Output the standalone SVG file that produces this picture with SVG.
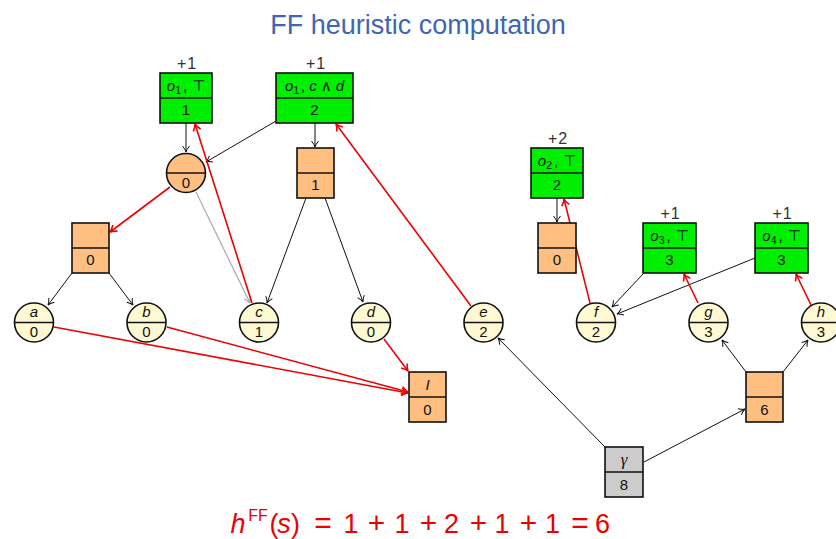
<svg xmlns="http://www.w3.org/2000/svg" width="836" height="539" viewBox="0 0 836 539">
<defs>
<style>
text{font-family:"Liberation Sans","DejaVu Sans",sans-serif;fill:#111}
.box{stroke:#111;stroke-width:1.6}
.g{fill:#00ee00}.o{fill:#ffbf80}.y{fill:#fef9d2}.gr{fill:#cccccc}
.div{stroke:#111;stroke-width:1.6}
.lbl{font-size:15px;text-anchor:middle}
.it{font-style:italic}
.sub{font-size:10.5px}
.cost{font-size:16px;text-anchor:middle;fill:#333;letter-spacing:1px}
.e{fill:none;stroke:#111;stroke-width:1;marker-end:url(#ab)}
.er{fill:none;stroke:#ee0000;stroke-width:1.6;marker-end:url(#ar)}
.eg{fill:none;stroke:#aaaaaa;stroke-width:1.2;marker-end:url(#ag)}
.fm{font-size:27px;text-anchor:middle;fill:#ee0000}
.op{font-size:30px}
</style>
<marker id="ab" markerUnits="userSpaceOnUse" viewBox="-8 -5 10 10" refX="0" refY="0" markerWidth="10" markerHeight="10" orient="auto"><path d="M-6,-3.5 Q-2.5,-0.6 0,0 Q-2.5,0.6 -6,3.5" fill="none" stroke="#111" stroke-width="1"/></marker>
<marker id="ar" markerUnits="userSpaceOnUse" viewBox="-8 -5 10 10" refX="0" refY="0" markerWidth="10" markerHeight="10" orient="auto"><path d="M-6.5,-3.8 Q-2.5,-0.6 0,0 Q-2.5,0.6 -6.5,3.8" fill="none" stroke="#ee0000" stroke-width="1.6"/></marker>
<marker id="ag" markerUnits="userSpaceOnUse" viewBox="-8 -5 10 10" refX="0" refY="0" markerWidth="10" markerHeight="10" orient="auto"><path d="M-6,-3.5 Q-2.5,-0.6 0,0 Q-2.5,0.6 -6,3.5" fill="none" stroke="#aaaaaa" stroke-width="1.2"/></marker>
</defs>
<rect width="836" height="539" fill="#ffffff"/>
<text x="418" y="34" font-size="27" text-anchor="middle" style="fill:#3f67b1">FF heuristic computation</text>

<g id="connectors">
<path class="e" d="M186,123 L186,152"/>
<path class="e" d="M276,121 L206,162"/>
<path class="e" d="M315,123 L315,147"/>
<path class="e" d="M306,198 L267,303"/>
<path class="e" d="M325,198 L363,302"/>
<path class="e" d="M72,273 L48,305"/>
<path class="e" d="M109,273 L133,305"/>
<path class="e" d="M557,198 L557,222"/>
<path class="e" d="M643,274 L612,307"/>
<path class="e" d="M755,258 L617,314"/>
<path class="e" d="M746,372 L722,340"/>
<path class="e" d="M783,372 L808,340"/>
<path class="e" d="M644,462 L745,409"/>
<path class="e" d="M605,447 L498,338"/>
<path class="eg" d="M196,192 L250,303"/>
<path class="er" d="M252,303 L195,124"/>
<path class="er" d="M170,187 L110,232"/>
<path class="er" d="M54,327 L408,393"/>
<path class="er" d="M167,327 L408,392"/>
<path class="er" d="M384,339 L408,371"/>
<path class="er" d="M471,306 L336,124"/>
<path class="er" d="M590,303 L564,199"/>
<path class="er" d="M698,303 L684,274"/>
<path class="er" d="M811,305 L796,274"/>
</g>

<g id="op_o1_top">
<text class="cost" x="187" y="69">+1</text>
<rect class="box g" x="160" y="73" width="52" height="50"/>
<line class="div" x1="160" y1="98" x2="212" y2="98"/>
<text class="lbl" x="186" y="91"><tspan class="it">o</tspan><tspan class="sub" dy="3">1</tspan><tspan dx="2" dy="-3">,</tspan><tspan dx="5">⊤</tspan></text>
<text class="lbl" x="186" y="115">1</text>
</g>

<g id="op_o1_cd">
<text class="cost" x="316" y="69">+1</text>
<rect class="box g" x="276" y="73" width="77" height="50"/>
<line class="div" x1="276" y1="98" x2="353" y2="98"/>
<text class="lbl" x="314.5" y="91"><tspan class="it">o</tspan><tspan class="sub" dy="3">1</tspan><tspan dx="2" dy="-3">,</tspan><tspan class="it" dx="4">c</tspan><tspan dx="4">∧</tspan><tspan class="it" dx="4">d</tspan></text>
<text class="lbl" x="314.5" y="115">2</text>
</g>

<g id="or_circ">
<circle class="box o" cx="186" cy="173" r="19.5"/>
<line class="div" x1="166.5" y1="173" x2="205.5" y2="173"/>
<text class="lbl" x="186" y="188">0</text>
</g>

<g id="and_cd">
<rect class="box o" x="297" y="148" width="37" height="50"/>
<line class="div" x1="297" y1="173" x2="334" y2="173"/>
<text class="lbl" x="315.5" y="190">1</text>
</g>

<g id="and_ab">
<rect class="box o" x="72" y="223" width="37" height="50"/>
<line class="div" x1="72" y1="248" x2="109" y2="248"/>
<text class="lbl" x="90.5" y="265">0</text>
</g>

<g id="init">
<rect class="box o" x="409" y="372" width="37" height="50"/>
<line class="div" x1="409" y1="397" x2="446" y2="397"/>
<text class="lbl it" x="427.5" y="390">I</text>
<text class="lbl" x="427.5" y="415">0</text>
</g>

<g id="op_o2">
<text class="cost" x="558" y="144">+2</text>
<rect class="box g" x="531" y="148" width="52" height="50"/>
<line class="div" x1="531" y1="173" x2="583" y2="173"/>
<text class="lbl" x="557" y="166"><tspan class="it">o</tspan><tspan class="sub" dy="3">2</tspan><tspan dx="2" dy="-3">,</tspan><tspan dx="5">⊤</tspan></text>
<text class="lbl" x="557" y="190">2</text>
</g>

<g id="and_o2">
<rect class="box o" x="538" y="223" width="38" height="50"/>
<line class="div" x1="538" y1="248" x2="576" y2="248"/>
<text class="lbl" x="557" y="265">0</text>
</g>

<g id="op_o3">
<text class="cost" x="670.5" y="219">+1</text>
<rect class="box g" x="643" y="223" width="53" height="50"/>
<line class="div" x1="643" y1="248" x2="696" y2="248"/>
<text class="lbl" x="669.5" y="241"><tspan class="it">o</tspan><tspan class="sub" dy="3">3</tspan><tspan dx="2" dy="-3">,</tspan><tspan dx="5">⊤</tspan></text>
<text class="lbl" x="669.5" y="265">3</text>
</g>

<g id="op_o4">
<text class="cost" x="782.5" y="219">+1</text>
<rect class="box g" x="755" y="223" width="53" height="50"/>
<line class="div" x1="755" y1="248" x2="808" y2="248"/>
<text class="lbl" x="781.5" y="241"><tspan class="it">o</tspan><tspan class="sub" dy="3">4</tspan><tspan dx="2" dy="-3">,</tspan><tspan dx="5">⊤</tspan></text>
<text class="lbl" x="781.5" y="265">3</text>
</g>

<g id="and_gh">
<rect class="box o" x="746" y="372" width="37" height="50"/>
<line class="div" x1="746" y1="397" x2="783" y2="397"/>
<text class="lbl" x="764.5" y="415">6</text>
</g>

<g id="goal">
<rect class="box gr" x="605" y="447" width="38" height="50"/>
<line class="div" x1="605" y1="472" x2="643" y2="472"/>
<text class="lbl" x="624" y="465" style="font-family:'Liberation Serif',serif;font-style:italic;font-size:17px">γ</text>
<text class="lbl" x="624" y="490">8</text>
</g>

<g id="var_a"><circle class="box y" cx="34" cy="322.5" r="19.5"/><line class="div" x1="14.5" y1="322.5" x2="53.5" y2="322.5"/><text class="lbl it" x="34" y="317">a</text><text class="lbl" x="34" y="337">0</text></g>
<g id="var_b"><circle class="box y" cx="146.5" cy="322.5" r="19.5"/><line class="div" x1="127" y1="322.5" x2="166" y2="322.5"/><text class="lbl it" x="146.5" y="317">b</text><text class="lbl" x="146.5" y="337">0</text></g>
<g id="var_c"><circle class="box y" cx="259" cy="322.5" r="19.5"/><line class="div" x1="239.5" y1="322.5" x2="278.5" y2="322.5"/><text class="lbl it" x="259" y="317">c</text><text class="lbl" x="259" y="337">1</text></g>
<g id="var_d"><circle class="box y" cx="371" cy="322.5" r="19.5"/><line class="div" x1="351.5" y1="322.5" x2="390.5" y2="322.5"/><text class="lbl it" x="371" y="317">d</text><text class="lbl" x="371" y="337">0</text></g>
<g id="var_e"><circle class="box y" cx="483.5" cy="322.5" r="19.5"/><line class="div" x1="464" y1="322.5" x2="503" y2="322.5"/><text class="lbl it" x="483.5" y="317">e</text><text class="lbl" x="483.5" y="337">2</text></g>
<g id="var_f"><circle class="box y" cx="596" cy="322.5" r="19.5"/><line class="div" x1="576.5" y1="322.5" x2="615.5" y2="322.5"/><text class="lbl it" x="596" y="317">f</text><text class="lbl" x="596" y="337">2</text></g>
<g id="var_g"><circle class="box y" cx="708.5" cy="322.5" r="19.5"/><line class="div" x1="689" y1="322.5" x2="728" y2="322.5"/><text class="lbl it" x="708.5" y="317">g</text><text class="lbl" x="708.5" y="337">3</text></g>
<g id="var_h"><circle class="box y" cx="821" cy="322.5" r="19.5"/><line class="div" x1="801.5" y1="322.5" x2="840.5" y2="322.5"/><text class="lbl it" x="821" y="317">h</text><text class="lbl" x="821" y="337">3</text></g>

<text class="fm" y="533"><tspan x="238" font-style="italic">h</tspan><tspan x="258" y="521" font-size="16">FF</tspan><tspan x="274" y="533">(</tspan><tspan x="284" font-style="italic">s</tspan><tspan x="295.5">)</tspan><tspan class="op" x="323">=</tspan><tspan x="351">1</tspan><tspan class="op" x="376.5">+</tspan><tspan x="402">1</tspan><tspan class="op" x="428.5">+</tspan><tspan x="451.5">2</tspan><tspan class="op" x="478.5">+</tspan><tspan x="502">1</tspan><tspan class="op" x="528.5">+</tspan><tspan x="552.5">1</tspan><tspan class="op" x="580">=</tspan><tspan x="602.5">6</tspan></text>
</svg>
